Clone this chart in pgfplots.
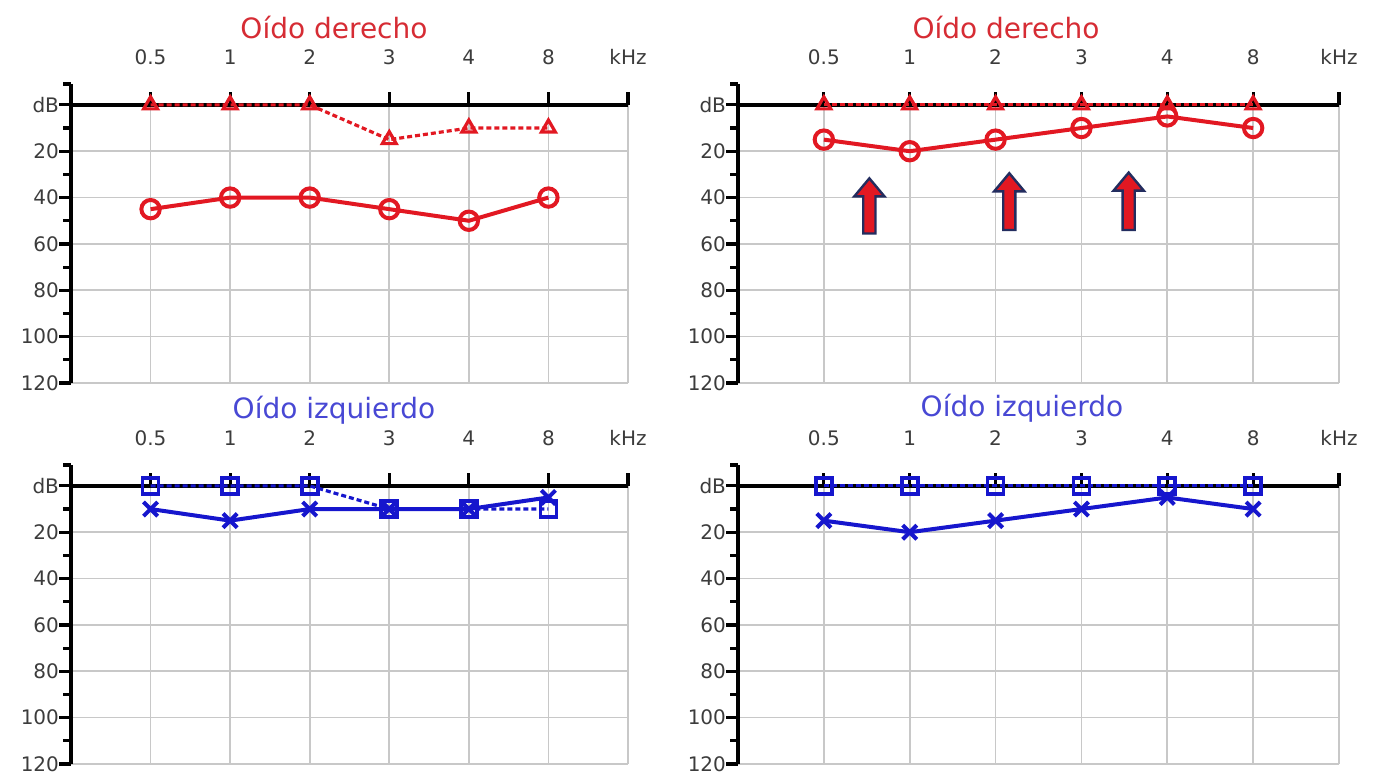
\documentclass[border=0pt]{standalone}
\usepackage{fontspec}
\setmainfont{DejaVu Sans}
\usepackage{pgfplots}
\pgfplotsset{compat=1.18}

\definecolor{dred}{RGB}{226,24,34}
\definecolor{dblue}{RGB}{22,22,205}
\definecolor{tred}{RGB}{214,44,52}
\definecolor{tblue}{RGB}{72,72,212}
\definecolor{gridc}{RGB}{200,200,200}
\definecolor{labc}{RGB}{60,60,60}
\definecolor{navyc}{RGB}{35,45,95}

\pgfplotsset{
  audiogram/.style={
    scale only axis, clip=false,
    y dir=reverse,
    xmin=-1, xmax=6, ymin=-9, ymax=120,
    height=149.5pt,
    axis line style={draw=none},
    xtick={0,...,6},
    xticklabels={0.5,1,2,3,4,8,kHz},
    xticklabel pos=upper,
    xtick style={draw=none},
    ytick={0,20,...,120},
    yticklabels={dB,20,40,60,80,100,120},
    minor ytick={-9,10,30,50,70,90,110},
    ytick pos=left,
    tick align=outside,
    major tick length=6pt, minor tick length=4pt,
    ytick style={black, line width=1.6pt},
    tick label style={font=\fontsize{10pt}{12pt}\selectfont, text=labc},
    yticklabel style={xshift=3.5pt},
  },
  trired/.style={dred, dashed, dash pattern=on 2.5pt off 1.5pt, line width=1.6pt, mark=triangle, mark size=4pt, mark options={solid, line width=1.6pt}},
  circred/.style={dred, solid, line width=2pt, mark=o, mark size=4.6pt, mark options={solid, line width=2pt}},
  sqblue/.style={dblue, dashed, dash pattern=on 2.5pt off 1.5pt, line width=1.6pt, mark=square, mark size=4pt, mark options={solid, line width=1.8pt}},
  xblue/.style={dblue, solid, line width=2pt, mark=x, mark size=5pt, mark options={solid, line width=2pt}},
  uparrow/.style={fill=dred, draw=navyc, line width=1.2pt},
}

\newcommand{\audiogrid}{%
  \pgfplotsinvokeforeach{0,...,6}{\draw[gridc, line width=0.8pt] (axis cs:##1,0) -- (axis cs:##1,120);}%
  \pgfplotsinvokeforeach{20,40,60,80,100,120}{\draw[gridc, line width=0.8pt] (axis cs:-1,##1) -- (axis cs:6,##1);}%
  \draw[black, line width=2pt] (axis cs:-1,0) -- (axis cs:6,0);%
  \pgfplotsinvokeforeach{0,...,6}{\draw[black, line width=1.6pt] (axis cs:##1,0) -- (axis cs:##1,-5.5);}%
  \draw[black, line width=2.2pt] (axis cs:-1,-9) -- (axis cs:-1,120);%
}

\begin{document}
\begin{tikzpicture}
\useasboundingbox (0pt,0pt) rectangle (689.5pt,-387pt);

\node[font=\fontsize{14pt}{16pt}\selectfont, text=tred] at (167pt,-14pt) {Oído derecho};
\node[font=\fontsize{14pt}{16pt}\selectfont, text=tred] at (503pt,-14pt) {Oído derecho};
\node[font=\fontsize{14pt}{16pt}\selectfont, text=tblue] at (167pt,-205pt) {Oído izquierdo};
\node[font=\fontsize{14pt}{16pt}\selectfont, text=tblue] at (511pt,-204pt) {Oído izquierdo};

% Top left: right ear
\begin{axis}[audiogram, width=278.5pt, at={(35.5pt,-42pt)}, anchor=north west]
\audiogrid
\addplot[trired] coordinates {(0,0) (1,0) (2,0) (3,15) (4,10) (5,10)};
\addplot[circred] coordinates {(0,45) (1,40) (2,40) (3,45) (4,50) (5,40)};
\end{axis}

% Top right: right ear after
\begin{axis}[audiogram, width=300.5pt, at={(369pt,-42pt)}, anchor=north west]
\audiogrid
\addplot[trired] coordinates {(0,0) (1,0) (2,0) (3,0) (4,0) (5,0)};
\addplot[circred] coordinates {(0,15) (1,20) (2,15) (3,10) (4,5) (5,10)};
\addplot[uparrow] coordinates {(0.459,55.5) (0.601,55.5) (0.601,39.5) (0.706,39.5) (0.53,31.7) (0.354,39.5) (0.459,39.5)} -- cycle;
\addplot[uparrow] coordinates {(2.089,54) (2.231,54) (2.231,37.3) (2.336,37.3) (2.16,29.5) (1.984,37.3) (2.089,37.3)} -- cycle;
\addplot[uparrow] coordinates {(3.479,54) (3.621,54) (3.621,37) (3.726,37) (3.55,29.2) (3.374,37) (3.479,37)} -- cycle;
\end{axis}

% Bottom left: left ear
\begin{axis}[audiogram, width=278.5pt, at={(35.5pt,-232.5pt)}, anchor=north west]
\audiogrid
\addplot[sqblue] coordinates {(0,0) (1,0) (2,0) (3,10) (4,10) (5,10)};
\addplot[xblue] coordinates {(0,10) (1,15) (2,10) (3,10) (4,10) (5,5)};
\end{axis}

% Bottom right: left ear after
\begin{axis}[audiogram, width=300.5pt, at={(369pt,-232.5pt)}, anchor=north west]
\audiogrid
\addplot[sqblue] coordinates {(0,0) (1,0) (2,0) (3,0) (4,0) (5,0)};
\addplot[xblue] coordinates {(0,15) (1,20) (2,15) (3,10) (4,5) (5,10)};
\end{axis}
\end{tikzpicture}
\end{document}
